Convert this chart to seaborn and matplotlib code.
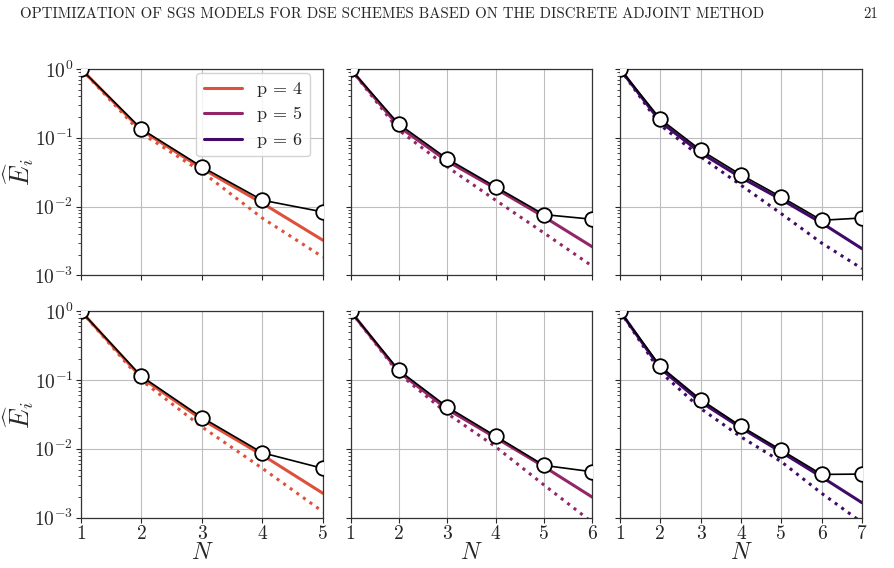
import numpy as np
import pandas as pd
import matplotlib
matplotlib.use("Agg")
import matplotlib.pyplot as plt
import seaborn as sns
from matplotlib.lines import Line2D

# --- DATA ---
N5 = [1, 2, 3, 4, 5]
N6 = [1, 2, 3, 4, 5, 6]
N7 = [1, 2, 3, 4, 5, 6, 7]

# top row
top_p4_ref = [1.0, 0.134, 0.0378, 0.0124, 0.00838]
top_p4_fit = [1.0, 0.129, 0.0359, 0.0112, 0.00325]
top_p4_dot = [1.0, 0.116, 0.032, 0.0068, 0.00185]

top_p5_ref = [1.0, 0.158, 0.0495, 0.0194, 0.00767, 0.00656]
top_p5_fit = [1.0, 0.145, 0.0458, 0.0183, 0.0071, 0.0026]
top_p5_dot = [1.0, 0.129, 0.0378, 0.0124, 0.00414, 0.00136]

top_p6_ref = [1.0, 0.187, 0.0662, 0.029, 0.0138, 0.00634, 0.00685]
top_p6_fit = [1.0, 0.171, 0.0605, 0.0265, 0.0127, 0.0058, 0.00245]
top_p6_dot = [1.0, 0.153, 0.053, 0.0205, 0.0079, 0.00296, 0.00126]

# bottom row
bot_p4_ref = [1.0, 0.113, 0.0285, 0.00875, 0.0052]
bot_p4_fit = [1.0, 0.108, 0.0267, 0.0081, 0.00226]
bot_p4_dot = [1.0, 0.099, 0.0208, 0.0052, 0.00122]

bot_p5_ref = [1.0, 0.138, 0.0406, 0.0153, 0.00575, 0.00464]
bot_p5_fit = [1.0, 0.131, 0.0376, 0.0145, 0.0055, 0.00198]
bot_p5_dot = [1.0, 0.124, 0.0326, 0.0107, 0.00298, 0.00085]

bot_p6_ref = [1.0, 0.158, 0.052, 0.0213, 0.00957, 0.00425, 0.0043]
bot_p6_fit = [1.0, 0.147, 0.048, 0.0202, 0.00896, 0.0039, 0.00165]
bot_p6_dot = [1.0, 0.131, 0.0385, 0.0149, 0.0065, 0.00226, 0.00085]

orders = ["p = 4", "p = 5", "p = 6"]
yticks = [1e-3, 1e-2, 1e-1, 1e0]
ytick_labels = [r"$10^{-3}$", r"$10^{-2}$", r"$10^{-1}$", r"$10^{0}$"]
header = "OPTIMIZATION OF SGS MODELS FOR DSE SCHEMES BASED ON THE DISCRETE ADJOINT METHOD"
page = "21"

# --- STYLE ---
sns.set_style("ticks")
plt.rcParams["font.family"] = ["serif"]
plt.rcParams["font.serif"] = ["cmr10", "DejaVu Serif"]
plt.rcParams["mathtext.fontset"] = "cm"
plt.rcParams["axes.unicode_minus"] = False

colors = sns.color_palette("inferno", 4)[:3][::-1]  # p=4 red, p=5 magenta, p=6 purple

panels = [
    [(N5, top_p4_ref, top_p4_fit, top_p4_dot),
     (N6, top_p5_ref, top_p5_fit, top_p5_dot),
     (N7, top_p6_ref, top_p6_fit, top_p6_dot)],
    [(N5, bot_p4_ref, bot_p4_fit, bot_p4_dot),
     (N6, bot_p5_ref, bot_p5_fit, bot_p5_dot),
     (N7, bot_p6_ref, bot_p6_fit, bot_p6_dot)],
]

fig, axes = plt.subplots(2, 3, figsize=(8.94, 5.68), dpi=100)
fig.subplots_adjust(left=0.0906, right=0.9642, top=0.8785, bottom=0.0886,
                    wspace=0.114, hspace=0.173)

for r in range(2):
    for c in range(3):
        ax = axes[r, c]
        N, ref, fit, dot = panels[r][c]
        col = colors[c]
        sns.lineplot(x=N, y=dot, ax=ax, color=col, lw=2.2, linestyle=":")
        sns.lineplot(x=N, y=fit, ax=ax, color=col, lw=2.2)
        sns.lineplot(x=N, y=ref, ax=ax, color="black", lw=1.2, marker="o",
                     markersize=10.5, markerfacecolor="white",
                     markeredgecolor="black", markeredgewidth=1.3, zorder=5)
        ax.set_yscale("log")
        ax.set_ylim(1e-3, 1e0)
        ax.set_xlim(N[0], N[-1])
        ax.set_xticks(N)
        ax.set_yticks(yticks)
        ax.grid(True, color="#bdbdbd", lw=0.8)
        ax.tick_params(axis="both", which="major", length=3.5, width=0.8,
                       labelsize=14, pad=2)
        ax.tick_params(axis="y", which="minor", length=2, width=0.6)
        for s in ax.spines.values():
            s.set_linewidth(0.9)
            s.set_color("#333333")
        if c == 0:
            ax.set_yticklabels(ytick_labels)
            ax.set_ylabel(r"$\widehat{E}_i$", fontsize=19, labelpad=-1)
        else:
            ax.set_yticklabels([])
        if r == 1:
            ax.set_xticklabels([str(n) for n in N])
            ax.set_xlabel(r"$N$", fontsize=17, labelpad=-1)
        else:
            ax.set_xticklabels([])

# legend in the first panel
handles = [Line2D([0], [0], color=colors[i], lw=2.2) for i in range(3)]
leg = axes[0, 0].legend(handles, orders, loc="upper right", fontsize=13,
                        handlelength=2.1, framealpha=0.85, borderpad=0.45,
                        labelspacing=0.55, handletextpad=0.8,
                        borderaxespad=0, bbox_to_anchor=(0.945, 0.98))
leg.set_zorder(10)

fig.text(0.022, 0.975, header, fontsize=10.7, ha="left", va="center")
fig.text(0.982, 0.975, page, fontsize=10.7, ha="right", va="center")

fig.savefig("out.png", dpi=100)
